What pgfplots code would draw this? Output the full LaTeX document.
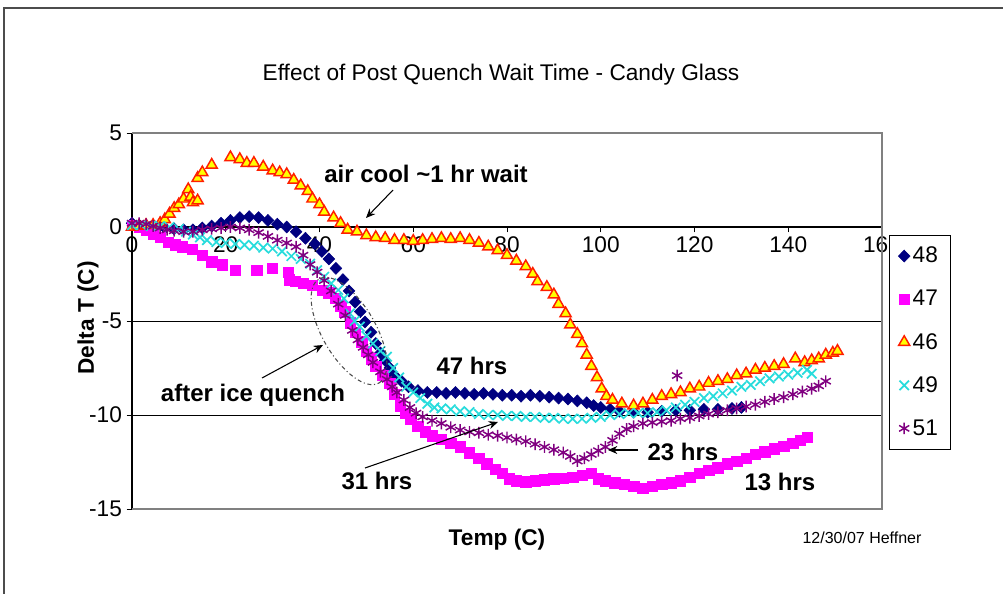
\documentclass[border=0pt]{standalone}
\usepackage{fontspec}
\setmainfont{Liberation Sans}
\usepackage{pgfplots}
\pgfplotsset{compat=1.18}
\usetikzlibrary{arrows.meta}
\definecolor{cNavy}{RGB}{0,0,128}
\definecolor{cMag}{RGB}{255,0,255}
\definecolor{cYel}{RGB}{255,255,0}
\definecolor{cRed}{RGB}{255,30,0}
\definecolor{cCyan}{RGB}{40,220,220}
\definecolor{cPur}{RGB}{128,0,128}
\newcommand{\px}[2]{({(#1)*0.75pt},{(593-(#2))*0.75pt})}
\begin{document}
\begin{tikzpicture}
\path[use as bounding box] (0,0) rectangle (752.25pt,444.75pt);
\draw[line width=0.8pt, black!70] \px{4}{600} -- \px{4}{8} -- \px{1010}{8};
\begin{axis}[
  at={(99pt,63pt)}, anchor=south west,
  scale only axis, width=562.5pt, height=282pt,
  xmin=0, xmax=160, ymin=-15, ymax=5,
  axis x line*=middle, axis y line*=left,
  hide obscured x ticks=false,
  xtick={0,20,...,160}, xticklabels={0,20,40,60,80,100,120,140,160},
  ytick={-15,-10,-5,0,5}, yticklabels={-15,-10,-5,0,5},
  tick align=outside, major tick length=4pt,
  tick style={black, line width=0.6pt},
  axis line style={black, line width=0.8pt},
  ymajorgrids, major grid style={black, line width=0.6pt},
  tick label style={font=\fontsize{17}{20}\selectfont},
  clip=false,
  legend style={at={(1.009,0.729)}, anchor=north west, draw=black, fill=white,
    font=\fontsize{17}{20}\selectfont, row sep=15pt, inner xsep=7pt, inner ysep=7pt},
  legend cell align=left,
]
\addplot[only marks, mark=diamond*, mark size=4.5pt, color=cNavy, mark options={xscale=1.3}] coordinates {
(0,0.2)(1.5,0.1)(3,0.05)(5,0)(7,-0.05)(9,-0.1)(11,-0.15)(13,-0.15)(15,-0.05)(17,0.05)(19,0.2)(21,0.35)(23,0.5)(25,0.55)(27,0.5)(29,0.35)(31,0.15)(33,0)(35,-0.25)(37,-0.6)(39,-0.9)(40.5,-1.3)(42,-1.7)(43.5,-2.2)(45,-2.8)(46.3,-3.4)(47.6,-4.0)(48.7,-4.5)(49.7,-5.05)(51,-5.6)(52,-6.2)(53,-6.7)(54,-7.1)(55,-7.5)(56,-7.9)(57.5,-8.2)(59,-8.5)(61,-8.7)(63,-8.8)(65,-8.8)(67,-8.85)(69,-8.8)(71,-8.85)(73,-8.9)(75,-8.85)(77,-8.9)(79,-8.95)(81,-8.95)(83,-9.0)(85,-8.95)(87,-9.0)(89,-9.05)(91,-9.1)(93,-9.15)(95,-9.25)(97,-9.35)(98.5,-9.5)(100,-9.6)(102,-9.7)(104,-9.8)(107,-9.85)(110,-9.85)(113,-9.8)(116,-9.75)(119,-9.75)(122,-9.7)(125,-9.7)(128,-9.65)(130,-9.6)
};
\addlegendentry{48}
\addplot[only marks, mark=square*, mark size=3.9pt, color=cMag] coordinates {
(0,0.1)(1.5,0)(3,-0.15)(4.5,-0.35)(6,-0.55)(7.7,-0.8)(9.2,-0.95)(10.7,-1.05)(12.8,-1.2)(15,-1.5)(17,-1.85)(19.2,-2.0)(22,-2.3)(26.6,-2.3)(29.9,-2.2)(33.3,-2.4)(33.6,-2.8)(34.8,-2.9)(36.5,-3.0)(38.4,-3.1)(40.7,-3.35)(42,-3.5)(43.3,-3.8)(44.5,-4.2)(45.4,-4.5)(46.5,-5.1)(47.6,-5.6)(49,-6.1)(50,-6.6)(51,-7.0)(52,-7.4)(53.5,-7.9)(55,-8.3)(56,-8.9)(57.2,-9.5)(58.3,-9.9)(59.5,-10.2)(61,-10.6)(62.5,-10.9)(64,-11.1)(66,-11.3)(68,-11.5)(70,-11.7)(72,-12.0)(74,-12.3)(75.7,-12.6)(77.5,-12.9)(79,-13.1)(80.5,-13.4)(82,-13.5)(84,-13.55)(86,-13.5)(88,-13.45)(90,-13.4)(92,-13.35)(94,-13.3)(96,-13.2)(98,-13.1)(99.5,-13.4)(101,-13.5)(103,-13.6)(105,-13.7)(107,-13.8)(109,-13.9)(111,-13.8)(113,-13.7)(115,-13.6)(117,-13.5)(119,-13.3)(121,-13.1)(123,-12.95)(125,-12.8)(127,-12.6)(129,-12.45)(131,-12.3)(133,-12.1)(135,-11.95)(137,-11.8)(139,-11.65)(141,-11.5)(142.5,-11.35)(144,-11.2)
};
\addlegendentry{47}
\addplot[only marks, mark=triangle*, mark size=4.8pt, mark options={fill=cYel, draw=cRed, line width=1.1pt}] coordinates {
(0,0)(1.5,0.05)(3,0.1)(4.5,0.1)(6,0.2)(7,0.4)(8,0.7)(9,1.0)(10,1.2)(11,1.5)(12,2.0)(12.5,1.6)(13,1.3)(14,1.4)(14,2.6)(15,2.9)(17,3.3)(21,3.7)(23,3.6)(24.5,3.4)(26,3.4)(28,3.2)(30,3.0)(31.5,2.9)(33,2.8)(34.5,2.5)(36,2.2)(37.5,1.9)(38.5,1.5)(40,1.2)(41,0.8)(43,0.5)(44.5,0.2)(46,-0.15)(48,-0.25)(50,-0.45)(52,-0.55)(54,-0.6)(56,-0.7)(58,-0.7)(60,-0.75)(62,-0.7)(64,-0.65)(66,-0.6)(68,-0.65)(70,-0.6)(72,-0.7)(74,-0.85)(76,-1.05)(78,-1.25)(80,-1.5)(82,-1.8)(84,-2.1)(85.5,-2.5)(86.5,-2.9)(88.5,-3.2)(90,-3.6)(91,-4.1)(92.5,-4.6)(93.5,-5.2)(95,-5.7)(96,-6.2)(97,-6.8)(98,-7.4)(99.2,-8.0)(100.2,-8.6)(101.2,-9.0)(102.5,-9.2)(104.5,-9.4)(107,-9.5)(109,-9.4)(111,-9.2)(113,-9.0)(115,-8.9)(117,-8.8)(119,-8.6)(121,-8.5)(123,-8.3)(125,-8.2)(127,-8.1)(129,-7.9)(131,-7.8)(133,-7.6)(135,-7.5)(137,-7.4)(139,-7.3)(141.5,-7.0)(143.5,-7.2)(145,-7.1)(146.5,-7.0)(148,-6.8)(149.5,-6.7)(150.5,-6.6)
};
\addlegendentry{46}
\addplot[only marks, mark=x, mark size=5pt, color=cCyan, mark options={line width=1.3pt}] coordinates {
(0,0.1)(2,0.1)(4,0.05)(6,0.05)(8,0)(10,-0.1)(11.5,-0.25)(13,-0.4)(14.5,-0.55)(16,-0.7)(18,-0.8)(20,-0.85)(22,-0.9)(24,-0.95)(26,-1.0)(28,-1.1)(30,-1.15)(32,-1.3)(34,-1.55)(36,-1.7)(38,-1.95)(39.5,-2.3)(41,-2.65)(42.5,-3.0)(44,-3.35)(45.2,-3.8)(46.5,-4.6)(47.5,-5.0)(48.6,-5.3)(50,-5.8)(51.4,-6.2)(53,-6.6)(54.4,-6.9)(55.7,-7.5)(57,-8.0)(58.5,-8.5)(60,-8.8)(61.5,-9.1)(63,-9.4)(64.5,-9.6)(66,-9.65)(68,-9.7)(70,-9.8)(72,-9.85)(74,-9.95)(76,-10.0)(78,-10.0)(80,-10.05)(82,-10.05)(84,-10.1)(86,-10.1)(88,-10.15)(90,-10.15)(92,-10.2)(94,-10.2)(96,-10.2)(98,-10.15)(100,-10.1)(102,-10.0)(104,-9.95)(106,-9.9)(108,-9.9)(110,-9.9)(112,-9.85)(114,-9.75)(116,-9.6)(118,-9.45)(120,-9.3)(122,-9.1)(124,-9.0)(126,-8.85)(128,-8.7)(130,-8.5)(132,-8.4)(134,-8.2)(136,-8.05)(138,-7.95)(140,-7.85)(142,-7.75)(144,-7.6)(145,-7.8)
};
\addlegendentry{49}
\addplot[only marks, mark=asterisk, mark size=4.4pt, color=cPur, mark options={line width=1.1pt}] coordinates {
(0,0.2)(1.5,0.2)(3,0.15)(4.5,0.05)(6,-0.05)(7.5,-0.15)(9,-0.2)(11,-0.25)(13,-0.25)(15,-0.15)(17,-0.1)(19,-0.05)(21,0)(23,-0.05)(25,-0.15)(27,-0.3)(29,-0.5)(31,-0.7)(33,-0.85)(35,-1.05)(36.5,-1.5)(38,-2.0)(39.5,-2.4)(41,-2.85)(42.5,-3.4)(44,-4.1)(45.5,-4.7)(47,-5.5)(48.2,-6.0)(49.3,-6.4)(50.4,-6.8)(51.4,-7.2)(53,-7.7)(54.4,-8.1)(55.5,-8.5)(56.5,-8.8)(58,-9.2)(59.3,-9.6)(60.6,-9.9)(62,-10.1)(64,-10.3)(66,-10.45)(68,-10.65)(70,-10.8)(72,-10.9)(74,-10.95)(76,-11.05)(78,-11.1)(80,-11.2)(82,-11.3)(84,-11.4)(86,-11.55)(88,-11.7)(90,-11.85)(92,-12.0)(93.5,-12.2)(95,-12.45)(96.5,-12.3)(98,-12.1)(99.5,-11.9)(101,-11.7)(102.5,-11.35)(104,-11.0)(105.5,-10.75)(107,-10.6)(109,-10.45)(111,-10.4)(113,-10.35)(115,-10.3)(116.3,-7.9)(117,-10.2)(119,-10.15)(121,-10.05)(123,-9.95)(125,-9.85)(127,-9.75)(129,-9.65)(131,-9.55)(133,-9.45)(135,-9.3)(137,-9.15)(139,-9.05)(141,-8.9)(143,-8.75)(145,-8.6)(146.5,-8.45)(148,-8.2)
};
\addlegendentry{51}
\draw[gray, line width=0.8pt] (rel axis cs:0,1) -- (rel axis cs:1,1) -- (rel axis cs:1,0) -- (rel axis cs:0,0);
\end{axis}
% titles
\node[font=\fontsize{17}{20}\selectfont] at \px{501}{75} {Effect of Post Quench Wait Time - Candy Glass};
\node[font=\bfseries\fontsize{17}{20}\selectfont, rotate=90] at \px{88}{318} {Delta T (C)};
\node[font=\bfseries\fontsize{17}{20}\selectfont] at \px{497}{540} {Temp (C)};
\node[font=\fontsize{12}{14}\selectfont] at \px{862}{538} {12/30/07 Heffner};
% annotations
\node[font=\bfseries\fontsize{18}{21}\selectfont] at \px{426}{174} {air cool \textasciitilde1 hr wait};
\draw[-{Stealth[length=7pt,width=6pt]}, line width=0.8pt] \px{393}{190} -- \px{366}{218};
\node[font=\bfseries\fontsize{18}{21}\selectfont] at \px{253}{395} {after ice quench};
\draw[-{Stealth[length=7pt,width=6pt]}, line width=0.8pt] \px{262}{378} -- \px{323}{345};
\draw[black!70, line width=0.8pt, dash dot] \px{349}{331} ellipse[x radius=45pt, y radius=20pt, rotate=-60];
\node[font=\bfseries\fontsize{18}{21}\selectfont] at \px{472}{366} {47 hrs};
\node[font=\bfseries\fontsize{18}{21}\selectfont] at \px{377}{481} {31 hrs};
\draw[-{Stealth[length=7pt,width=6pt]}, line width=0.8pt] \px{365}{468} -- \px{498}{422};
\node[font=\bfseries\fontsize{18}{21}\selectfont] at \px{683}{452} {23 hrs};
\draw[-{Stealth[length=7pt,width=6pt]}, line width=0.8pt] \px{638}{450} -- \px{608}{450};
\node[font=\bfseries\fontsize{18}{21}\selectfont] at \px{780}{482} {13 hrs};
\end{tikzpicture}
\end{document}
